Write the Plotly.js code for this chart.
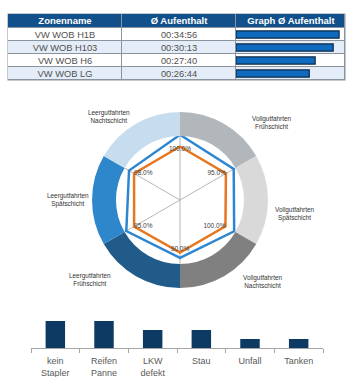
<!DOCTYPE html>
<html><head><meta charset="utf-8">
<script src="https://cdn.plot.ly/plotly-3.0.1.min.js"></script>
<style>html,body{margin:0;padding:0;background:#fff;} #chart{width:358px;height:377px;}</style>
</head><body><div id="chart"></div>
<script>
// ---- table data ----
const tableHeaders = ['Zonenname', 'Ø Aufenthalt', 'Graph Ø Aufenthalt'];
const zoneNames = ['VW WOB H1B', 'VW WOB H103', 'VW WOB H6', 'VW WOB LG'];
const avgStay = ['00:34:56', '00:30:13', '00:27:40', '00:26:44'];
const graphMinutes = [34.9, 32.9, 26.8, 24.8];

// ---- radar / ring data ----
const ringLabels = ['Vollgutfahrten<br>Frühschicht', 'Vollgutfahrten<br>Spätschicht', 'Vollgutfahrten<br>Nachtschicht',
                    'Leergutfahrten<br>Frühschicht', 'Leergutfahrten<br>Spätschicht', 'Leergutfahrten<br>Nachtschicht'];
const ringShares = [1, 1, 1, 1, 1, 1];
const spokeAngles = [90, 30, 330, 270, 210, 150];
const actualValues = [101, 100, 99, 99, 100, 100];
const targetValues = [123, 117, 118, 109, 117, 111];
const pctLabels = ['100.0%', '95.0%', '100.0%', '90.0%', '95.0%', '98.0%'];

// ---- bottom bar data ----
const reasons = ['kein<br>Stapler', 'Reifen<br>Panne', 'LKW<br>defekt', 'Stau', 'Unfall', 'Tanken'];
const reasonCounts = [3, 3, 2, 2, 1, 1];

// ---- geometry helpers (pixels -> paper) ----
const W = 358, H = 377;
const px = v => v / W;
const py = v => 1 - v / H;
const cx = 180, cy = 200, rOuter = 88, rInner = 64, rPolar = 66;
const FONT = 'Arial, Liberation Sans, sans-serif';

// table structure (pixel units on the table axes)
const colEdges = [0, 114, 228, 337];
const headEdges = [0, 14];
const rowEdges = [14, 27, 40, 53, 66];

const ringColors = ['#b1b7ba', '#d9d9d9', '#808080', '#215b89', '#2f87cb', '#c6ddf0'];
const close = a => a.concat([a[0]]);

const bodyText = zoneNames.map((z, i) => [z, avgStay[i], '']);
const bodyZ = zoneNames.map((z, i) => [i % 2, i % 2, i % 2]);

const traces = [
  {
    type: 'bar', x: reasons, y: reasonCounts, xaxis: 'x', yaxis: 'y', width: 0.4,
    marker: {color: '#0d3a62'}, hoverinfo: 'none', showlegend: false
  },
  {
    type: 'heatmap', xaxis: 'x2', yaxis: 'y2', x: colEdges, y: headEdges,
    z: [tableHeaders.map(() => 0)], text: [tableHeaders.map(t => '<b>' + t + '</b>')], texttemplate: '%{text}',
    textfont: {family: FONT, size: 9.5, color: '#ffffff'},
    colorscale: [[0, '#11508b'], [1, '#11508b']], zmin: 0, zmax: 1, showscale: false,
    xgap: 1, ygap: 1, hoverinfo: 'none'
  },
  {
    type: 'heatmap', xaxis: 'x2', yaxis: 'y2', x: colEdges, y: rowEdges,
    z: bodyZ, text: bodyText, texttemplate: '%{text}',
    textfont: {family: FONT, size: 9.3, color: '#505050'},
    colorscale: [[0, '#ffffff'], [1, '#e4edf7']], zmin: 0, zmax: 1, showscale: false,
    xgap: 1, ygap: 1, hoverinfo: 'none'
  },
  {
    type: 'bar', orientation: 'h', x: graphMinutes, y: zoneNames, xaxis: 'x3', yaxis: 'y3',
    width: 0.55, marker: {color: '#0f6bbf', line: {color: '#0b2745', width: 1.2}},
    hoverinfo: 'none', showlegend: false
  },
  {
    type: 'pie', values: ringShares, labels: ringLabels, sort: false, direction: 'clockwise', rotation: 0,
    hole: rInner / rOuter, textinfo: 'none', hoverinfo: 'none', showlegend: false,
    marker: {colors: ringColors, line: {width: 0}},
    domain: {x: [px(cx - rOuter), px(cx + rOuter)], y: [py(cy + rOuter), py(cy - rOuter)]}
  },
  {
    type: 'scatterpolar', r: close(targetValues), theta: close(spokeAngles), mode: 'lines',
    line: {color: '#2e86d0', width: 2.5}, hoverinfo: 'none', showlegend: false, cliponaxis: false
  },
  {
    type: 'scatterpolar', r: close(actualValues), theta: close(spokeAngles), mode: 'lines',
    line: {color: '#e8761f', width: 2.5}, hoverinfo: 'none', showlegend: false, cliponaxis: false
  },
  {
    type: 'scatterpolar', r: actualValues, theta: spokeAngles, mode: 'text', text: pctLabels,
    textposition: ['bottom center', 'middle left', 'middle left', 'top center', 'middle right', 'middle right'],
    textfont: {family: FONT, size: 6.5, color: '#404040'},
    hoverinfo: 'none', showlegend: false, cliponaxis: false
  }
];

const labelPos = [[272, 122], [295, 214], [263, 281], [90, 279], [68, 200], [109, 117]];
const annotations = ringLabels.map((t, i) => ({
  text: t, x: px(labelPos[i][0]), y: py(labelPos[i][1]), xref: 'paper', yref: 'paper',
  showarrow: false, xanchor: 'center', yanchor: 'middle', align: 'center',
  font: {family: FONT, size: 6.4, color: '#333333'}
}));

const layout = {
  width: W, height: H, autosize: false,
  margin: {l: 0, r: 0, t: 0, b: 0, pad: 0},
  paper_bgcolor: '#ffffff', plot_bgcolor: 'rgba(0,0,0,0)',
  showlegend: false,
  font: {family: FONT, color: '#595959'},
  xaxis: {
    domain: [px(31), px(323)], type: 'category', range: [-0.5, 5.5], anchor: 'y',
    showline: true, linecolor: '#a6a6a6', linewidth: 1, ticks: 'outside', tickson: 'boundaries',
    ticklen: 4, tickcolor: '#a6a6a6', showgrid: false, zeroline: false, ticklabelstandoff: 4,
    tickfont: {family: FONT, size: 9, color: '#595959'}, fixedrange: true
  },
  yaxis: {domain: [py(348), py(318)], range: [0, 3.33], visible: false, anchor: 'x', fixedrange: true},
  xaxis2: {domain: [px(8), px(345)], range: [0, 337], visible: false, anchor: 'y2', fixedrange: true},
  yaxis2: {domain: [py(80), py(14)], range: [66, 0], visible: false, anchor: 'x2', fixedrange: true},
  xaxis3: {domain: [px(236), px(345)], range: [0, 36.9], visible: false, anchor: 'y3', fixedrange: true},
  yaxis3: {domain: [py(80), py(28)], type: 'category', autorange: 'reversed', visible: false, anchor: 'x3', fixedrange: true},
  polar: {
    domain: {x: [px(cx - rPolar), px(cx + rPolar)], y: [py(cy + rPolar), py(cy - rPolar)]},
    bgcolor: 'rgba(0,0,0,0)',
    angularaxis: {rotation: 0, direction: 'counterclockwise', tickmode: 'linear', tick0: 30, dtick: 60,
                  showticklabels: false, ticks: '', showline: false, gridcolor: '#a3a3a3', gridwidth: 0.8},
    radialaxis: {visible: false, range: [0, 124.5], showgrid: false, showline: false}
  },
  shapes: [{
    type: 'rect', xref: 'paper', yref: 'paper', x0: px(7.5), x1: px(345.5), y0: py(80.5), y1: py(13.5),
    fillcolor: '#8a949e', line: {width: 0}, layer: 'below'
  }],
  annotations: annotations
};

Plotly.newPlot('chart', traces, layout, {displayModeBar: false, staticPlot: true});
</script></body></html>
